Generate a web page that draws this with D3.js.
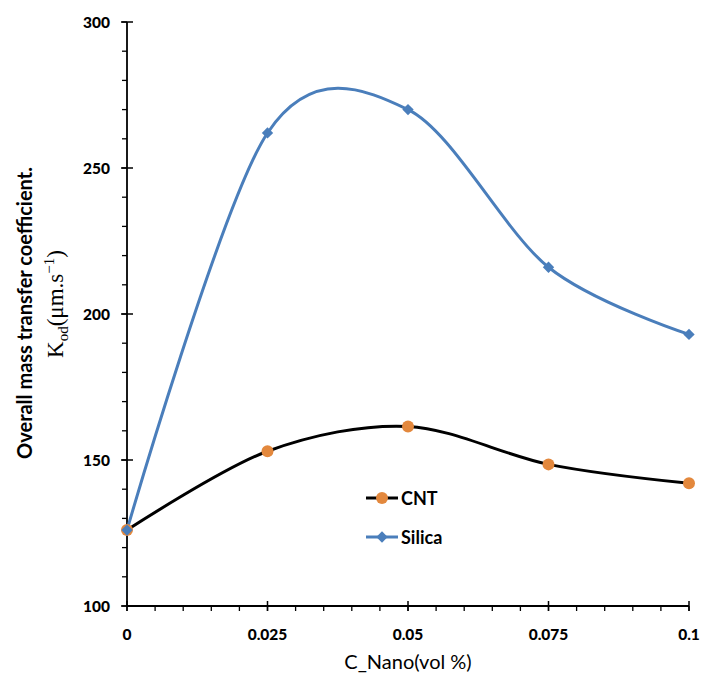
<!DOCTYPE html>
<html><head><meta charset="utf-8">
<script src="https://cdn.jsdelivr.net/npm/d3@7"></script>
<style>body{margin:0;background:#fff}svg{display:block}</style>
</head><body>
<svg id="c" width="701" height="675"></svg>
<script>
const xValues = [0, 0.025, 0.05, 0.075, 0.1];
const cntValues = [126, 153, 161.5, 148.5, 142];
const silicaValues = [126, 262, 270, 216, 193];
const xTickLabels = ["0", "0.025", "0.05", "0.075", "0.1"];
const yTickValues = [100, 150, 200, 250, 300];
const seriesNames = ["CNT", "Silica"];

const svg = d3.select("#c");
const x = d3.scaleLinear().domain([0, 0.1]).range([127, 689]);
const y = d3.scaleLinear().domain([100, 300]).range([606, 22]);
const font = "Lato, 'Open Sans', sans-serif";

const g = svg.append("g");
const xMinor = d3.range(0, 0.1001, 0.005);
g.selectAll(".xm").data(xMinor).join("line")
  .attr("x1", d => x(d)).attr("x2", d => x(d))
  .attr("y1", y(100)).attr("y2", y(100) + 5)
  .attr("stroke", "#000").attr("stroke-width", 1.3);
const yMinor = d3.range(100, 301, 10);
g.selectAll(".ym").data(yMinor).join("line")
  .attr("x1", x(0) - 5).attr("x2", x(0))
  .attr("y1", d => y(d)).attr("y2", d => y(d))
  .attr("stroke", "#000").attr("stroke-width", 1.3);
g.selectAll(".xM").data(xValues).join("line")
  .attr("x1", d => x(d)).attr("x2", d => x(d))
  .attr("y1", y(100) - 5).attr("y2", y(100) + 5)
  .attr("stroke", "#000").attr("stroke-width", 1.5);
g.selectAll(".yM").data(yTickValues).join("line")
  .attr("x1", x(0) - 6).attr("x2", x(0) + 6)
  .attr("y1", d => y(d)).attr("y2", d => y(d))
  .attr("stroke", "#000").attr("stroke-width", 1.5);
g.append("line").attr("x1", x(0)).attr("x2", x(0.1)).attr("y1", y(100)).attr("y2", y(100))
  .attr("stroke", "#000").attr("stroke-width", 1.8);
g.append("line").attr("x1", x(0)).attr("x2", x(0)).attr("y1", y(100)).attr("y2", y(300))
  .attr("stroke", "#000").attr("stroke-width", 1.8);

g.selectAll(".xl").data(xValues).join("text")
  .attr("x", d => x(d)).attr("y", 640)
  .attr("text-anchor", "middle").attr("font-family", font).attr("font-weight", "900")
  .attr("font-size", 15.5).attr("fill", "#000").text((d, i) => xTickLabels[i]);
g.selectAll(".yl").data(yTickValues).join("text")
  .attr("x", 110).attr("y", d => y(d) + 6)
  .attr("text-anchor", "end").attr("font-family", font).attr("font-weight", "900")
  .attr("font-size", 15.5).attr("fill", "#000").text(d => d);

svg.append("text").attr("x", 408).attr("y", 669).attr("text-anchor", "middle")
  .attr("font-family", font).attr("font-size", 20).attr("fill", "#000").text("C_Nano(vol %)");
svg.append("text").attr("transform", "translate(32,313) rotate(-90)").attr("text-anchor", "middle")
  .attr("font-family", font).attr("font-weight", "bold").attr("font-size", 20).attr("fill", "#000")
  .text("Overall mass transfer coefficient.");
const t2 = svg.append("text").attr("transform", "translate(63,304) rotate(-90)").attr("text-anchor", "middle")
  .attr("font-family", "'Liberation Serif', 'DejaVu Serif', serif").attr("font-size", 23).attr("fill", "#000");
t2.append("tspan").text("K");
t2.append("tspan").attr("font-size", 15).attr("dy", 5).text("od");
t2.append("tspan").attr("dy", -5).text("(μm.s");
t2.append("tspan").attr("font-size", 15).attr("dy", -9).text("−1");
t2.append("tspan").attr("dy", 9).text(")");

const line = d3.line().x(d => x(d[0])).y(d => y(d[1])).curve(d3.curveCardinal.tension(0.05));
const silicaPts = xValues.map((v, i) => [v, silicaValues[i]]);
const cntPts = xValues.map((v, i) => [v, cntValues[i]]);
const blue = "#4a7ebb", orange = "#e3883d";
svg.append("path").attr("d", line(cntPts)).attr("fill", "none").attr("stroke", "#000").attr("stroke-width", 3);
svg.append("path").attr("d", line(silicaPts)).attr("fill", "none").attr("stroke", blue).attr("stroke-width", 3);
svg.selectAll(".cm").data(cntPts).join("circle")
  .attr("cx", d => x(d[0])).attr("cy", d => y(d[1])).attr("r", 6).attr("fill", orange);
const diamond = d3.symbol().type(d3.symbolSquare).size(64);
svg.selectAll(".sm").data(silicaPts).join("path")
  .attr("d", diamond).attr("transform", d => `translate(${x(d[0])},${y(d[1])}) rotate(45)`).attr("fill", blue);

const leg = svg.append("g");
const ly = [498, 537];
leg.append("line").attr("x1", 366).attr("x2", 398).attr("y1", ly[0]).attr("y2", ly[0]).attr("stroke", "#000").attr("stroke-width", 3);
leg.append("circle").attr("cx", 382).attr("cy", ly[0]).attr("r", 6).attr("fill", orange);
leg.append("line").attr("x1", 366).attr("x2", 398).attr("y1", ly[1]).attr("y2", ly[1]).attr("stroke", blue).attr("stroke-width", 3);
leg.append("path").attr("d", diamond).attr("transform", `translate(382,${ly[1]}) rotate(45)`).attr("fill", blue);
leg.selectAll(".lt").data(seriesNames).join("text")
  .attr("x", 401).attr("y", (d, i) => ly[i] + 7).attr("font-family", font).attr("font-weight", "bold")
  .attr("font-size", 18).attr("fill", "#000").text(d => d);
</script>
</body></html>
